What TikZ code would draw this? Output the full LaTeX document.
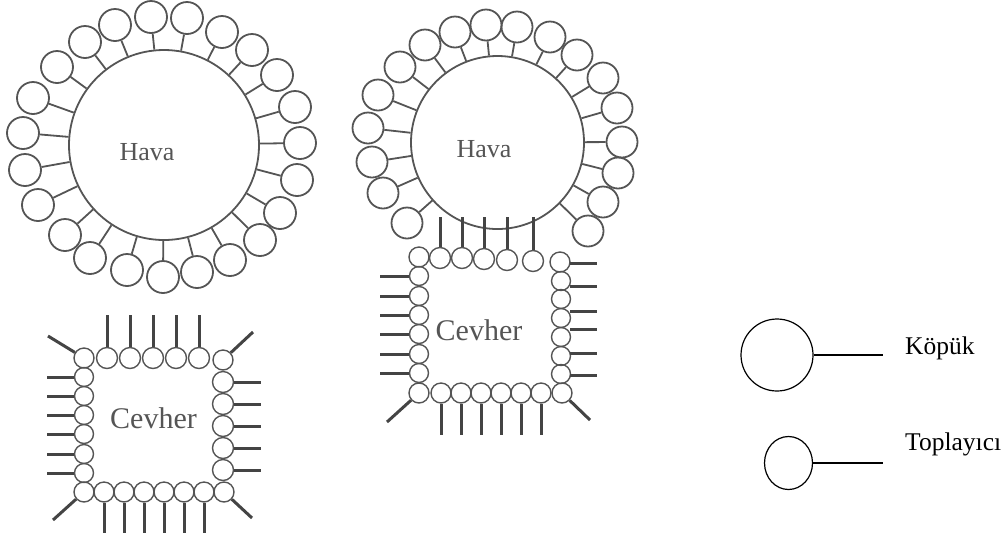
\documentclass[tikz,border=0pt]{standalone}
\usepackage{fontspec}
\setmainfont{Liberation Serif}
\usetikzlibrary{calc,shapes.geometric}
\definecolor{gry}{HTML}{555555}
\definecolor{dgry}{HTML}{444444}
\newcommand\havafont{\fontsize{26}{28}\selectfont}
\newcommand\cevfont{\fontsize{30}{32}\selectfont}
\newcommand\legfont{\fontsize{25.5}{27}\selectfont}
\begin{document}
\begin{tikzpicture}[x=1pt,y=-1pt,
  bigbub/.style={circle,draw=gry,line width=1.8pt,minimum size=#1,inner sep=0pt},
  foam/.style={circle,draw=gry,line width=1.8pt,minimum size=#1,inner sep=0pt},
  foam/.default=32pt,
  orec/.style={circle,draw=gry,line width=1.4pt,minimum size=#1,inner sep=0pt},
  orec/.default=20pt,
  bstick/.style={draw=gry,line width=1.8pt},
  ostick/.style={draw=dgry,line width=3pt},
  lbl/.style={text=gry,inner sep=0pt,anchor=base},
  legc/.style={draw=black,line width=1.2pt,inner sep=0pt},
  legl/.style={draw=black,line width=1.2pt},
  legt/.style={text=black,inner sep=0pt,anchor=base west,font=\legfont}]
\useasboundingbox (0,0) rectangle (1008,542);

% ---------- left air bubble ----------
\node[bigbub=190pt] (HL) at (164,145) {};
\foreach \x/\y [count=\i] in {85/42,115/25,151/17,187/18,222/32,252/50,277/75,295/107,
  300/143,297/180,280/213,260/240,230/260,197/272,163/277,127/270,90/258,65/235,
  38/205,25/170,23/133,33/98,57/67}{
  \node[foam] (fL\i) at (\x,\y) {};
  \draw[bstick] (HL) -- (fL\i);
}
\node[lbl,font=\havafont] (tHL) at (147,160) {Hava};

% ---------- left ore particle ----------
\node[orec=20pt] (LTL) at (84,358) {};
\node[orec=20pt] (LTR) at (223,360) {};
\node[orec=20pt] (LBL) at (84,492) {};
\node[orec=20pt] (LBR) at (224,492) {};
\foreach \x [count=\i] in {107,130,153,176,199}{
  \node[orec=21pt] (Lt\i) at (\x,358) {};
  \draw[ostick] (Lt\i.north) -- (\x,315);
}
\foreach \y [count=\i] in {377,396,415,434,454,473}{
  \node[orec=19pt] (Ll\i) at (84,\y) {};
  \draw[ostick] (Ll\i.west) -- (47,\y);
}
\foreach \y [count=\i] in {382,404,426,448,470}{
  \node[orec=21pt] (Lr\i) at (223,\y) {};
  \draw[ostick] (Lr\i.east) -- (261,\y);
}
\foreach \x [count=\i] in {104,124,144,164,184,204}{
  \node[orec=20pt] (Lb\i) at (\x,492) {};
  \draw[ostick] (Lb\i.south) -- (\x,533);
}
\draw[ostick] (LTL) -- (48,336);
\draw[ostick] (LTR) -- (253,332);
\draw[ostick] (LBL) -- (53,520);
\draw[ostick] (LBR) -- (252,518);
\node[lbl,font=\cevfont] (tCL) at (153.5,428) {Cevher};

% ---------- right air bubble ----------
\node[bigbub=173pt] (HR) at (497.5,142.5) {};
\foreach \x/\y [count=\i] in {486/25,517/27,550/37,577/55,603/78,617/108,622/142,618/173,
  603/202,588/231,407/223,383/193,372/162,368/128,378/95,400/67,425/45,455/32}{
  \node[foam=31pt] (fR\i) at (\x,\y) {};
  \draw[bstick] (HR) -- (fR\i);
}
\node[lbl,font=\havafont] (tHR) at (484,157) {Hava};

% ---------- right ore particle ----------
\node[orec=20pt] (RTL) at (419,257) {};
\node[orec=20pt] (RTR) at (560,262) {};
\node[orec=20pt] (RBL) at (419,393) {};
\node[orec=20pt] (RBR) at (562,393) {};
\foreach \x/\y [count=\i] in {440/258,462/258,484/259,507/260,533/261}{
  \node[orec=21pt] (Rt\i) at (\x,\y) {};
  \draw[ostick] (Rt\i.north) -- (\x,217);
}
\foreach \y [count=\i] in {276,296,315,334,354,373}{
  \node[orec=19pt] (Rl\i) at (419,\y) {};
  \draw[ostick] (Rl\i.west) -- (380,\y);
}
\foreach \y [count=\i] in {281,299,318,337,356,374}{
  \node[orec=19pt] (Rr\i) at (561,\y) {};
}
\foreach \y in {263,286,311,329,353,375}{
  \draw[ostick] (570,\y) -- (597,\y);
}
\foreach \x [count=\i] in {441,461,481,501,521,541}{
  \node[orec=20pt] (Rb\i) at (\x,393) {};
  \draw[ostick] (Rb\i.south) -- (\x,435);
}
\draw[ostick] (RBL) -- (387,422);
\draw[ostick] (RBR) -- (590,420);
\node[lbl,font=\cevfont] (tCR) at (479,340) {Cevher};

% ---------- legend ----------
\node[legc,circle,minimum size=72pt] (kop) at (777,355) {};
\coordinate (kopE) at (883,355);
\draw[legl] (kop.east) -- (kopE);
\node[legt] (tkop) at (905,354) {Köpük};
\node[legc,ellipse,minimum width=48pt,minimum height=53pt] (top) at (788.5,463) {};
\coordinate (topE) at (883,463);
\draw[legl] (top.east) -- (topE);
\node[legt] (ttop) at (905,450) {Toplayıcı};
\end{tikzpicture}
\end{document}
